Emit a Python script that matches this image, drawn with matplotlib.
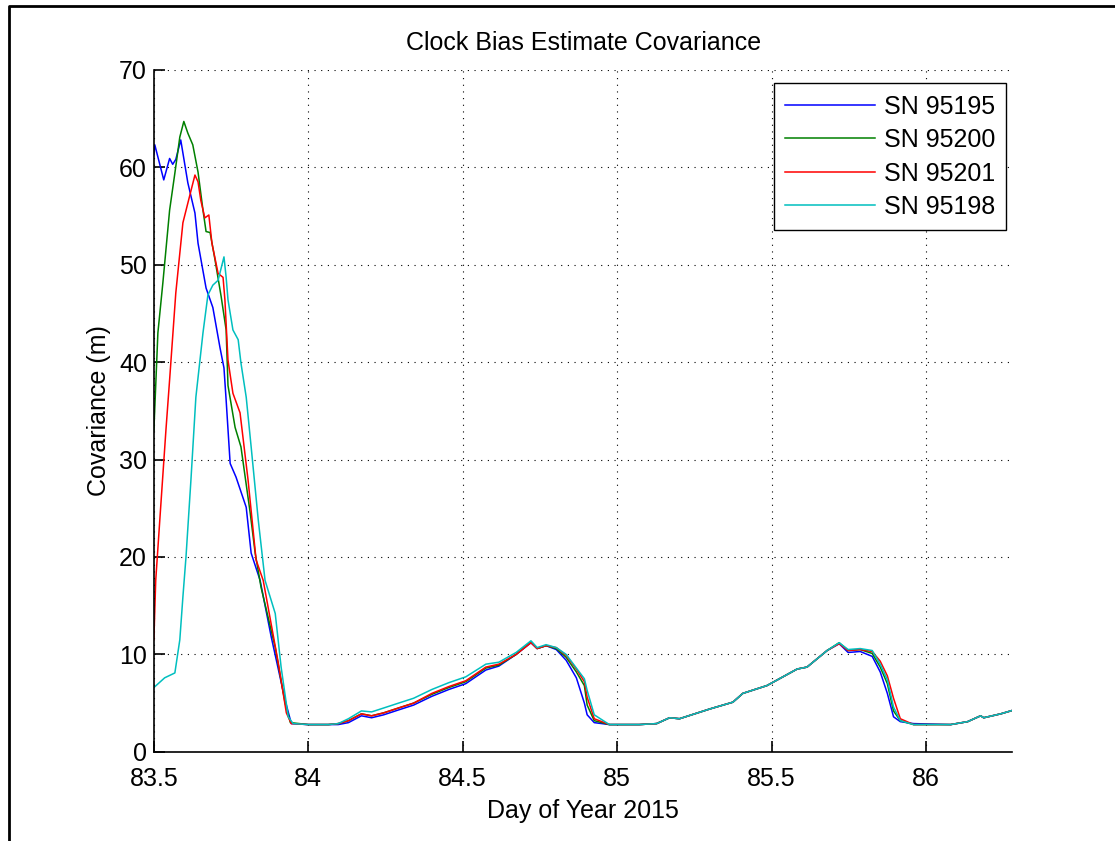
import matplotlib.pyplot as plt
from matplotlib.lines import Line2D

plt.rcParams['font.family'] = ['Liberation Sans', 'DejaVu Sans']

# first pass (start of the track)
blue_x = [83.500, 83.503, 83.532, 83.551, 83.561, 83.571, 83.587, 83.610, 83.633, 83.643,
          83.669, 83.691, 83.714, 83.727, 83.734, 83.747, 83.766, 83.799, 83.815, 83.844,
          83.880, 83.925, 83.945]
blue_y = [61.3, 62.3, 58.7, 60.9, 60.3, 60.8, 62.8, 58.4, 55.3, 52.2,
          47.6, 45.6, 41.5, 39.4, 36.1, 29.6, 28.2, 25.1, 20.4, 17.6,
          11.8, 5.3, 2.9]

green_x = [83.500, 83.513, 83.529, 83.551, 83.568, 83.584, 83.597, 83.610, 83.626, 83.643,
           83.659, 83.669, 83.682, 83.698, 83.718, 83.734, 83.740, 83.763, 83.782, 83.812,
           83.828, 83.847, 83.893, 83.925, 83.942]
green_y = [33.0, 43.0, 48.1, 55.6, 59.4, 63.1, 64.7, 63.5, 62.3, 59.5,
           55.6, 53.4, 53.3, 50.5, 46.7, 43.3, 37.6, 33.3, 31.3, 24.5,
           20.4, 16.9, 10.7, 5.0, 3.0]

red_x = [83.500, 83.506, 83.522, 83.539, 83.551, 83.571, 83.594, 83.617, 83.633, 83.643,
         83.652, 83.665, 83.678, 83.688, 83.708, 83.724, 83.730, 83.740, 83.756, 83.779,
         83.805, 83.831, 83.854, 83.903, 83.929, 83.945]
red_y = [11.5, 17.6, 25.1, 33.0, 38.2, 47.1, 54.3, 57.2, 59.2, 58.5,
         56.6, 54.8, 55.1, 52.2, 49.1, 48.7, 46.4, 40.2, 36.8, 34.8,
         27.9, 19.7, 17.6, 9.1, 4.0, 2.9]

cyan_x = [83.500, 83.535, 83.568, 83.584, 83.594, 83.604, 83.620, 83.636, 83.659, 83.675,
          83.691, 83.708, 83.727, 83.734, 83.740, 83.756, 83.773, 83.782, 83.799, 83.815,
          83.838, 83.860, 83.893, 83.912, 83.935, 83.951]
cyan_y = [6.6, 7.6, 8.1, 11.5, 15.9, 20.0, 27.9, 36.4, 43.0, 46.9,
          47.9, 48.4, 50.8, 48.7, 46.4, 43.3, 42.3, 39.9, 36.4, 31.3,
          23.8, 17.6, 14.2, 8.7, 3.6, 2.9]

# rest of the track, where the four receivers nearly overlap
tail_x = [84.000, 84.065, 84.097, 84.130, 84.172, 84.205, 84.244, 84.292, 84.341, 84.400,
          84.455, 84.510, 84.575, 84.617, 84.673, 84.721, 84.741, 84.770, 84.803, 84.835,
          84.868, 84.894, 84.903, 84.926, 84.975, 85.072, 85.128, 85.170, 85.202, 85.300,
          85.375, 85.407, 85.485, 85.583, 85.615, 85.680, 85.719, 85.748, 85.787, 85.826,
          85.852, 85.875, 85.895, 85.917, 85.960, 86.080, 86.135, 86.177, 86.187, 86.242,
          86.285]
tail_green = [2.8, 2.8, 2.9, 3.2, 3.9, 3.7, 4.0, 4.5, 5.0, 5.9,
              6.6, 7.2, 8.6, 8.9, 10.0, 11.3, 10.6, 10.9, 10.6, 9.7,
              8.2, 6.8, 4.8, 3.2, 2.8, 2.8, 2.9, 3.5, 3.4, 4.4,
              5.1, 6.0, 6.8, 8.5, 8.7, 10.4, 11.2, 10.4, 10.5, 10.1,
              8.7, 7.0, 4.2, 3.2, 2.8, 2.8, 3.1, 3.7, 3.5, 3.9,
              4.3]
tail_red = [2.8, 2.8, 2.9, 3.2, 3.9, 3.7, 4.0, 4.5, 5.0, 6.0,
            6.7, 7.3, 8.7, 9.0, 10.0, 11.2, 10.6, 10.9, 10.7, 9.9,
            8.5, 7.2, 5.6, 3.4, 2.8, 2.8, 2.9, 3.5, 3.4, 4.4,
            5.1, 6.0, 6.8, 8.5, 8.7, 10.4, 11.1, 10.4, 10.5, 10.3,
            9.3, 7.8, 5.5, 3.4, 2.8, 2.8, 3.1, 3.7, 3.5, 3.9,
            4.3]
tail_blue = [2.8, 2.8, 2.8, 3.0, 3.7, 3.5, 3.8, 4.3, 4.8, 5.7,
             6.4, 7.0, 8.4, 8.8, 10.0, 11.2, 10.6, 10.9, 10.5, 9.4,
             7.6, 5.0, 3.8, 3.0, 2.8, 2.8, 2.9, 3.5, 3.4, 4.4,
             5.1, 6.0, 6.8, 8.5, 8.7, 10.4, 11.1, 10.2, 10.3, 9.8,
             8.2, 6.0, 3.6, 3.1, 2.9, 2.8, 3.1, 3.7, 3.5, 3.9,
             4.3]
tail_cyan = [2.8, 2.8, 2.9, 3.4, 4.2, 4.1, 4.5, 5.0, 5.5, 6.4,
             7.1, 7.7, 9.0, 9.2, 10.2, 11.4, 10.7, 11.0, 10.7, 10.0,
             8.6, 7.5, 6.3, 3.8, 2.8, 2.8, 2.9, 3.5, 3.4, 4.4,
             5.1, 6.0, 6.8, 8.5, 8.7, 10.4, 11.2, 10.5, 10.6, 10.4,
             9.0, 7.4, 4.6, 3.2, 2.8, 2.8, 3.1, 3.7, 3.5, 3.9,
             4.3]

labels = ['SN 95195', 'SN 95200', 'SN 95201', 'SN 95198']

fig = plt.figure(figsize=(11.15, 8.41), dpi=100)
ax = fig.add_axes([0.138, 0.106, 0.770, 0.811])

ax.plot(blue_x + tail_x, blue_y + tail_blue, color=(0, 0, 1), lw=1.1, label=labels[0])
ax.plot(green_x + tail_x, green_y + tail_green, color=(0, 0.5, 0), lw=1.1, label=labels[1])
ax.plot(red_x + tail_x, red_y + tail_red, color=(1, 0, 0), lw=1.1, label=labels[2])
ax.plot(cyan_x + tail_x, cyan_y + tail_cyan, color=(0, 0.75, 0.75), lw=1.1, label=labels[3])

ax.set_xlim(83.5, 86.28)
ax.set_ylim(0, 70)
ax.set_xticks([83.5, 84, 84.5, 85, 85.5, 86])
ax.set_xticklabels(['83.5', '84', '84.5', '85', '85.5', '86'])
ax.set_yticks(range(0, 71, 10))

ax.grid(True, color='black', linestyle=(0, (1, 5)), linewidth=0.8)
ax.spines['top'].set_visible(False)
ax.spines['right'].set_visible(False)
ax.spines['left'].set_linewidth(1.2)
ax.spines['bottom'].set_linewidth(1.2)
ax.tick_params(direction='in', length=8, width=1.2, labelsize=18)
ax.tick_params(axis='x', pad=11)
ax.tick_params(axis='y', pad=5)

ax.set_title('Clock Bias Estimate Covariance', fontsize=18, pad=14)
ax.set_xlabel('Day of Year 2015', fontsize=18, labelpad=6)
ax.set_ylabel('Covariance (m)', fontsize=18, labelpad=6)

leg = ax.legend(loc='upper right', bbox_to_anchor=(0.993, 0.98), borderaxespad=0,
                fontsize=18, fancybox=False, framealpha=1, edgecolor='black',
                handlelength=3.6, handletextpad=0.35, borderpad=0.45,
                labelspacing=0.38)
leg.get_frame().set_linewidth(1.0)

# figure border (left and top edges only are visible)
fig.add_artist(Line2D([9 / 1115, 9 / 1115, 1], [0, 1 - 6 / 841, 1 - 6 / 841],
                      transform=fig.transFigure, color='black', lw=2))

plt.savefig('out.png', dpi=100)
